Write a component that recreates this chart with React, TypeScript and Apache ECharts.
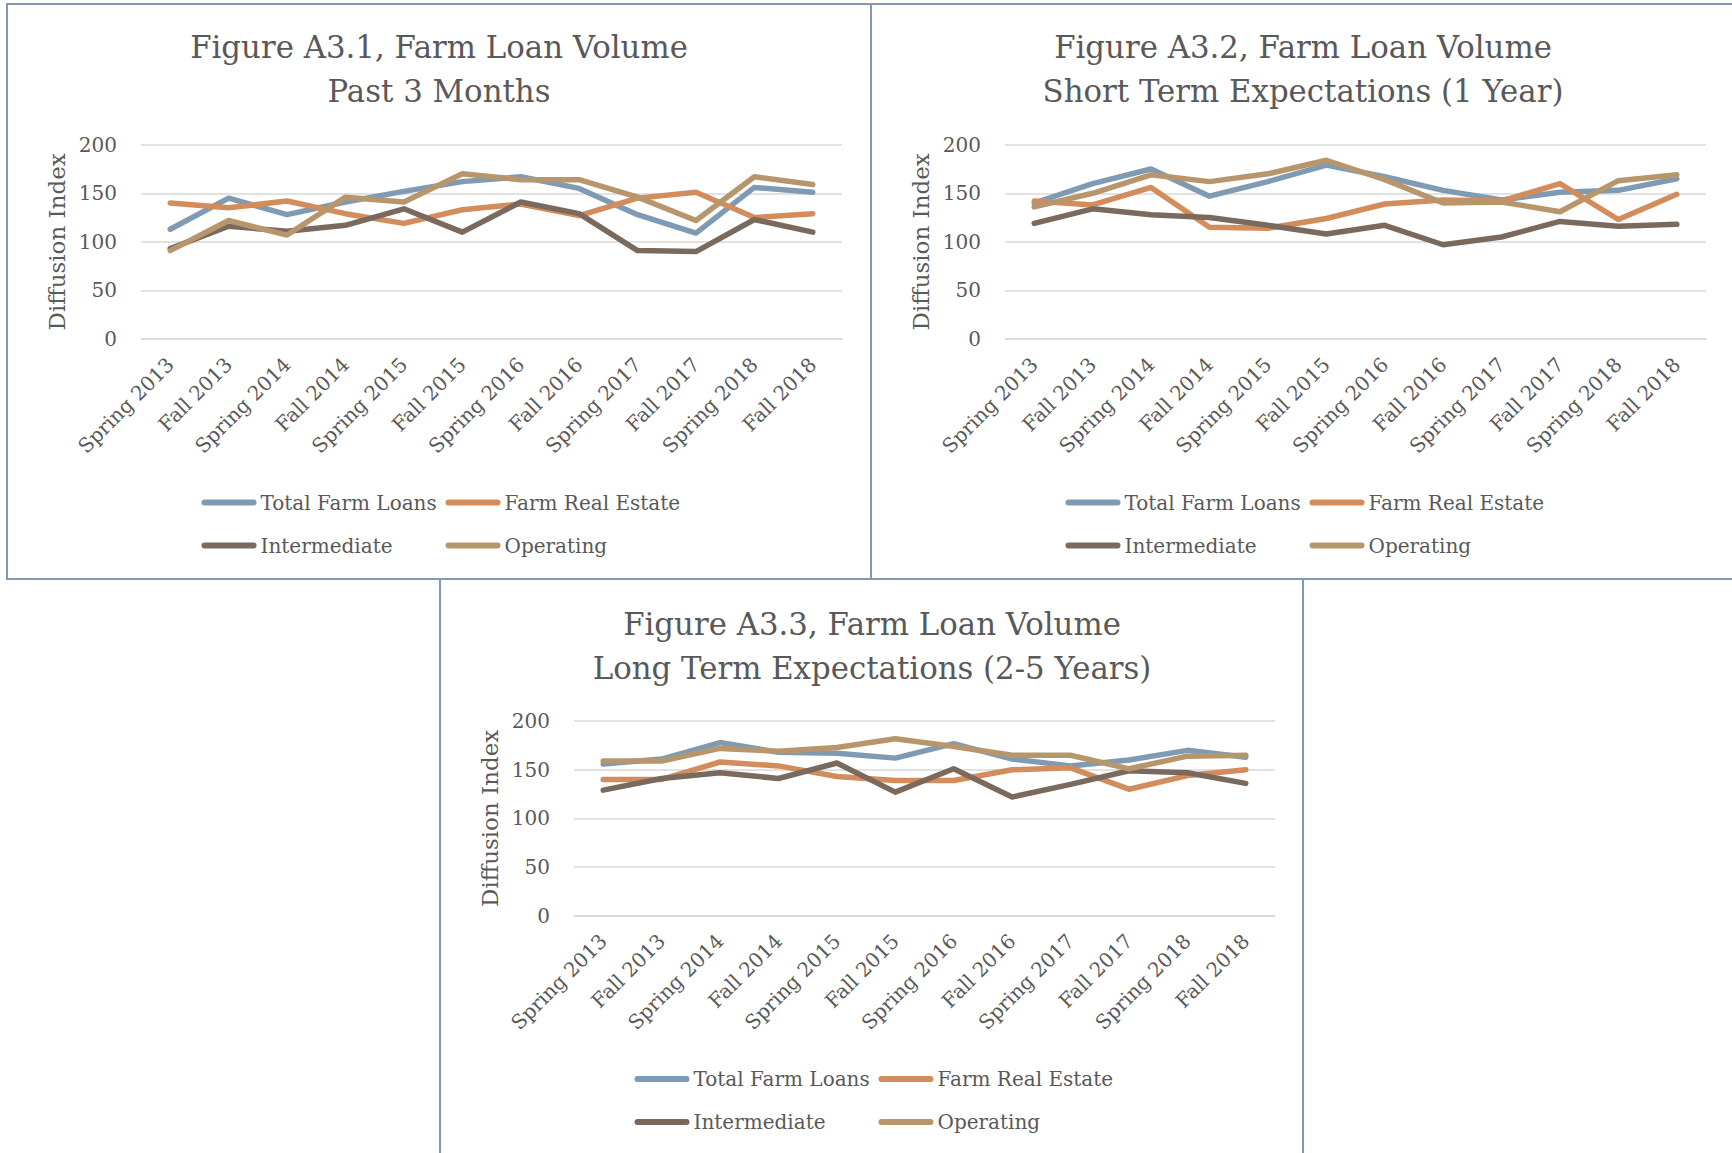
import React, { useEffect, useRef } from "react";
import * as echarts from "echarts";

const categories = [
  "Spring 2013", "Fall 2013", "Spring 2014", "Fall 2014", "Spring 2015", "Fall 2015",
  "Spring 2016", "Fall 2016", "Spring 2017", "Fall 2017", "Spring 2018", "Fall 2018",
];
const seriesNames = ["Total Farm Loans", "Farm Real Estate", "Intermediate", "Operating"];
const yTicks = [0, 50, 100, 150, 200];

const titles = [
  "Figure A3.1, Farm Loan Volume\nPast 3 Months",
  "Figure A3.2, Farm Loan Volume\nShort Term Expectations (1 Year)",
  "Figure A3.3, Farm Loan Volume\nLong Term Expectations (2-5 Years)",
];

// Figure A3.1
const total1 = [113, 145, 128, 141, 152, 162, 167, 155, 128, 109, 156, 151];
const realEstate1 = [140, 135, 142, 129, 119, 133, 139, 127, 145, 151, 125, 129];
const intermediate1 = [93, 116, 111, 117, 134, 110, 141, 129, 91, 90, 123, 110];
const operating1 = [91, 122, 107, 146, 141, 170, 164, 164, 146, 122, 167, 159];

// Figure A3.2
const total2 = [140, 160, 175, 147, 162, 179, 167, 153, 143, 151, 153, 165];
const realEstate2 = [142, 138, 156, 115, 114, 124, 139, 143, 142, 160, 123, 149];
const intermediate2 = [119, 134, 128, 125, 117, 108, 117, 97, 105, 121, 116, 118];
const operating2 = [136, 150, 169, 162, 170, 184, 164, 140, 141, 131, 163, 169];

// Figure A3.3
const total3 = [156, 161, 178, 168, 167, 162, 177, 161, 154, 160, 170, 163];
const realEstate3 = [140, 140, 158, 154, 143, 139, 139, 150, 152, 130, 144, 150];
const intermediate3 = [129, 141, 147, 141, 157, 127, 151, 122, 135, 149, 147, 136];
const operating3 = [159, 159, 172, 169, 173, 182, 174, 165, 165, 151, 164, 165];

const chartData = [
  [total1, realEstate1, intermediate1, operating1],
  [total2, realEstate2, intermediate2, operating2],
  [total3, realEstate3, intermediate3, operating3],
];

const colors = ["#7F9BB4", "#D38C5B", "#7A6A5E", "#B8966C"];
const FONT = "DejaVu Serif";
const TEXT = "#595959";
const GRID = "#D9D9D9";
const BORDER = "#8497B0";

// panel offsets
const panels = [
  { dx: 0, dy: 0 },
  { dx: 864, dy: 0 },
  { dx: 433, dy: 576.5 },
];

const capsule = "path://M3,0 L52,0 A3,3 0 0 1 52,6 L3,6 A3,3 0 0 1 3,0 Z";

export default function App() {
  const ref = useRef<HTMLDivElement>(null);
  useEffect(() => {
    if (!ref.current) return;
    const chart = echarts.init(ref.current, null, { renderer: "svg" });

    const title: any[] = [];
    const grid: any[] = [];
    const xAxis: any[] = [];
    const yAxis: any[] = [];
    const series: any[] = [];
    const legend: any[] = [];

    panels.forEach((p, i) => {
      title.push({
        text: titles[i],
        left: 434 + p.dx,
        textAlign: "center",
        top: 20 + p.dy,
        textStyle: { fontFamily: FONT, fontSize: 30.8, fontWeight: "normal", color: TEXT, lineHeight: 44 },
      });
      grid.push({ left: 141 + p.dx, top: 144.7 + p.dy, width: 701, height: 194.3 });
      xAxis.push({
        type: "category",
        gridIndex: i,
        data: categories,
        boundaryGap: true,
        axisLine: { show: true, lineStyle: { color: GRID, width: 1.5 } },
        axisTick: { show: false },
        axisLabel: { interval: 0, rotate: 45, margin: 22, fontFamily: FONT, fontSize: 20, color: TEXT },
      });
      yAxis.push({
        type: "value",
        gridIndex: i,
        min: yTicks[0],
        max: yTicks[yTicks.length - 1],
        interval: 50,
        name: "Diffusion Index",
        nameLocation: "middle",
        nameRotate: 90,
        nameGap: 73,
        nameTextStyle: { fontFamily: FONT, fontSize: 23, color: TEXT },
        axisLine: { show: false },
        axisTick: { show: false },
        splitLine: { lineStyle: { color: GRID, width: 1.5 } },
        axisLabel: { margin: 24, fontFamily: FONT, fontSize: 20, color: TEXT },
      });
      chartData[i].forEach((d, k) => {
        series.push({
          type: "line",
          name: seriesNames[k],
          xAxisIndex: i,
          yAxisIndex: i,
          data: d,
          symbol: "none",
          color: colors[k],
          lineStyle: { width: 5.5, color: colors[k], cap: "round", join: "round" },
        });
      });
      [[0, 2], [1, 3]].forEach((cols, c) => {
        legend.push({
          orient: "vertical",
          left: (c === 0 ? 196.5 : 440.5) + p.dx,
          top: 487.5 + p.dy,
          itemGap: 23,
          itemWidth: 55,
          itemHeight: 6,
          selectedMode: false,
          data: cols.map((k) => ({ name: seriesNames[k], icon: capsule, itemStyle: { color: colors[k] } })),
          textStyle: { fontFamily: FONT, fontSize: 20, color: TEXT, padding: [0, 0, 0, -1] },
        });
      });
    });

    const graphic = [
      { type: "rect", shape: { x: 7, y: 4, width: 864, height: 575 }, style: { fill: "none", stroke: BORDER, lineWidth: 2 } },
      { type: "rect", shape: { x: 871, y: 4, width: 880, height: 575 }, style: { fill: "none", stroke: BORDER, lineWidth: 2 } },
      { type: "rect", shape: { x: 440, y: 579, width: 863, height: 600 }, style: { fill: "none", stroke: BORDER, lineWidth: 2 } },
    ];

    chart.setOption({
      animation: false,
      backgroundColor: "#ffffff",
      title,
      grid,
      xAxis,
      yAxis,
      series,
      legend,
      graphic,
    });
    return () => chart.dispose();
  }, []);
  return (
    <div
      ref={ref}
      style={{ position: "fixed", left: 0, top: 0, width: 1732, height: 1153, background: "#fff" }}
    />
  );
}
